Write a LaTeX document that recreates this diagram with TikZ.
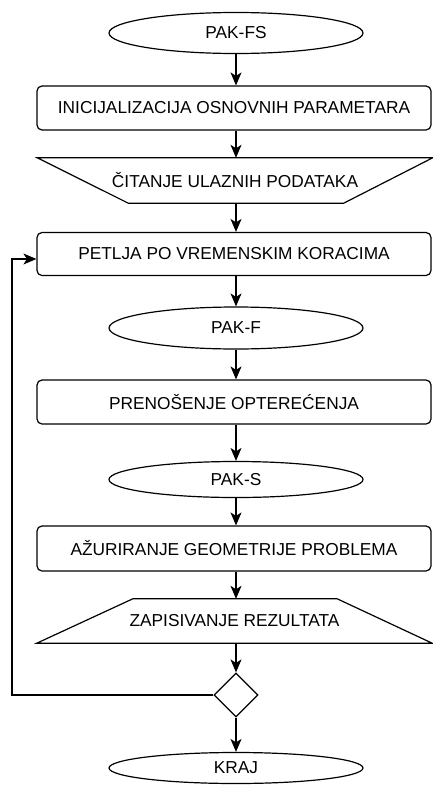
\documentclass[tikz,border=0pt]{standalone}
\usepackage{fontspec}
\setmainfont{Liberation Sans}
\usetikzlibrary{shapes.geometric,arrows.meta,calc}
\begin{document}
\begin{tikzpicture}[x=1pt,y=-1pt,
  every node/.style={font=\fontsize{17.3}{20}\selectfont, inner sep=0pt},
  ln/.style={line width=1.2pt, draw=black},
  proc/.style={ln, draw, rounded corners=5pt, minimum width=394pt, minimum height=44pt},
  term/.style={ln, draw, ellipse, minimum width=254pt},
  slot/.style={minimum width=395pt, minimum height=45pt},
  decis/.style={ln, draw, diamond, minimum width=44pt, minimum height=44pt},
  arr/.style={ln, -{Stealth[length=13pt,width=11pt,inset=3.5pt]}}]
\useasboundingbox (0,0) rectangle (432,787);
\coordinate (ax) at (236,0);
\node[term, minimum height=41pt] (pakfs) at (236,33) {PAK-FS};
\node[proc] (init) at (234,108) {INICIJALIZACIJA OSNOVNIH PARAMETARA};
\node[slot] (read) at (235,180.5) {ČITANJE ULAZNIH PODATAKA};
\draw[ln] (read.north west) -- (read.north east) -- ($(read.south east)+(-89,0)$) -- ($(read.south west)+(91,0)$) -- cycle;
\node[proc, minimum height=43pt] (loop) at (234,254) {PETLJA PO VREMENSKIM KORACIMA};
\node[term, minimum height=42pt] (pakf) at (236,328) {PAK-F};
\node[proc] (trans) at (234,402) {PRENOŠENJE OPTEREĆENJA};
\node[term, minimum height=36pt] (paks) at (236,479.5) {PAK-S};
\node[proc, minimum height=45pt] (upd) at (234,548.5) {AŽURIRANJE GEOMETRIJE PROBLEMA};
\node[slot, minimum height=44pt] (write) at (234.5,621) {ZAPISIVANJE REZULTATA};
\draw[ln] ($(write.north west)+(96,0)$) -- ($(write.north east)+(-95,0)$) -- (write.south east) -- (write.south west) -- cycle;
\node[decis] (dec) at (236,695) {};
\node[term, minimum height=31pt] (kraj) at (236,768) {KRAJ};
\coordinate (lp) at (12,259);
\draw[arr] (pakfs) -- (init.north -| pakfs);
\draw[arr] (init.south -| ax) -- (read.north -| ax);
\draw[arr] (read.south -| ax) -- (loop.north -| ax);
\draw[arr] (loop.south -| ax) -- (pakf);
\draw[arr] (pakf) -- (trans.north -| ax);
\draw[arr] (trans.south -| ax) -- (paks);
\draw[arr] (paks) -- (upd.north -| ax);
\draw[arr] (upd.south -| ax) -- (write.north -| ax);
\draw[arr] (write.south -| ax) -- (dec);
\draw[arr] (dec) -- (kraj);
\draw[arr] (dec.west) -| (lp) -- (loop.west |- lp);
\end{tikzpicture}
\end{document}
